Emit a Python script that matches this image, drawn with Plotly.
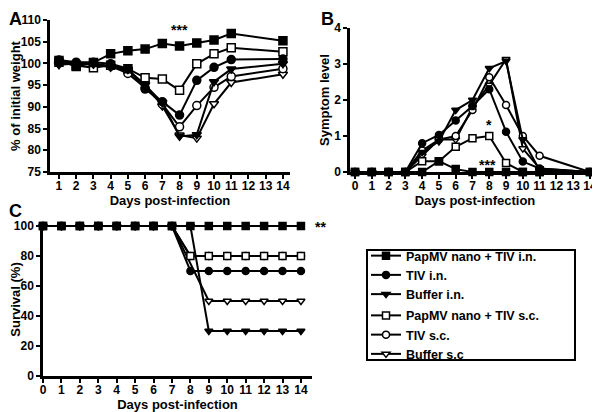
import plotly.graph_objects as go

# ---------------- data ----------------
names = ["PapMV nano + TIV i.n.", "TIV i.n.", "Buffer i.n.",
         "PapMV nano + TIV s.c.", "TIV s.c.", "Buffer s.c"]

# Panel A: % of initial weight
days_A = [1, 2, 3, 4, 5, 6, 7, 8, 9, 10, 11, 14]
papmv_in_A = [100.7, 99.3, 100.2, 102.2, 102.9, 103.3, 104.6, 104.0, 104.7, 105.4, 106.9, 105.2]
tiv_in_A = [100.8, 100.3, 100.3, 99.9, 98.8, 94.1, 91.2, 88.1, 96.1, 99.1, 100.9, 101.0]
buf_in_A = [99.7, 100.0, 99.8, 99.1, 98.6, 95.0, 91.0, 83.2, 83.6, 95.8, 98.7, 99.9]
papmv_sc_A = [100.3, 99.5, 99.0, 99.6, 98.8, 96.7, 96.4, 93.8, 99.9, 102.2, 103.6, 102.7]
tiv_sc_A = [100.4, 100.0, 99.9, 99.4, 97.7, 94.4, 90.6, 85.4, 90.3, 94.5, 97.0, 98.8]
buf_sc_A = [99.9, 99.9, 99.7, 99.3, 98.3, 95.2, 90.2, 83.5, 82.8, 90.7, 95.6, 97.5]

# Panel B: symptom level
days_B = [0, 1, 2, 3, 4, 5, 6, 7, 8, 9, 10, 11, 14]
papmv_in_B = [0, 0, 0, 0, 0, 0.3, 0.08, 0, 0, 0, 0, 0, 0]
tiv_in_B = [0, 0, 0, 0, 0.8, 1.03, 1.43, 1.83, 2.3, 1.12, 0.29, 0.1, 0]
buf_in_B = [0, 0, 0, 0, 0.55, 0.85, 1.72, 2.0, 2.88, 3.08, 0.9, 0.05, 0]
papmv_sc_B = [0, 0, 0, 0, 0.3, 0.3, 0.7, 0.94, 1.0, 0.25, 0, 0, 0]
tiv_sc_B = [0, 0, 0, 0, 0.6, 0.9, 1.0, 1.72, 2.63, 1.86, 1.0, 0.45, 0]
buf_sc_B = [0, 0, 0, 0, 0.45, 0.9, 0.9, 1.8, 2.42, 3.13, 0.65, 0.1, 0]

# Panel C: survival (%)
days_C = [0, 1, 2, 3, 4, 5, 6, 7, 8, 9, 10, 11, 12, 13, 14]
papmv_in_C = [100, 100, 100, 100, 100, 100, 100, 100, 100, 100, 100, 100, 100, 100, 100]
tiv_in_C = [100, 100, 100, 100, 100, 100, 100, 100, 70, 70, 70, 70, 70, 70, 70]
buf_in_C = [100, 100, 100, 100, 100, 100, 100, 100, 100, 30, 30, 30, 30, 30, 30]
papmv_sc_C = [100, 100, 100, 100, 100, 100, 100, 100, 80, 80, 80, 80, 80, 80, 80]
tiv_sc_C = [100, 100, 100, 100, 100, 100, 100, 100, 80, 80, 80, 80, 80, 80, 80]
buf_sc_C = [100, 100, 100, 100, 100, 100, 100, 100, None, 50, 50, 50, 50, 50, 50]

ticks_A = [1, 2, 3, 4, 5, 6, 7, 8, 9, 10, 11, 12, 13, 14]
ticks_BC = [0, 1, 2, 3, 4, 5, 6, 7, 8, 9, 10, 11, 12, 13, 14]

# ---------------- styles ----------------
symbols = ["square", "circle", "triangle-down", "square", "circle", "triangle-down"]
fills = ["black", "black", "black", "white", "white", "white"]
groups = ["in", "in", "in", "sc", "sc", "sc"]

# the page body has an 8px margin: the figure sits at (8, 8) in the window
OFF = 8
W, H = 600 - OFF, 412 - OFF
FONT = "Liberation Sans, Arial, Helvetica, sans-serif"


def px_x(p):
    return (p - OFF) / W


def px_y(p):
    return 1 - (p - OFF) / H


fig = go.Figure()

panels = [
    ("x", "y", days_A, [papmv_in_A, tiv_in_A, buf_in_A, papmv_sc_A, tiv_sc_A, buf_sc_A], 8, False),
    ("x2", "y2", days_B, [papmv_in_B, tiv_in_B, buf_in_B, papmv_sc_B, tiv_sc_B, buf_sc_B], 7, False),
    ("x3", "y3", days_C, [papmv_in_C, tiv_in_C, buf_in_C, papmv_sc_C, tiv_sc_C, buf_sc_C], 7, True),
]

for xa, ya, days, series, msize, show in panels:
    # draw in reverse so that the filled square series is on top
    for i in [5, 4, 3, 2, 1, 0]:
        fig.add_trace(go.Scatter(
            x=days, y=series[i], xaxis=xa, yaxis=ya,
            mode="lines+markers", name=names[i],
            legendgroup=groups[i], showlegend=show, legendrank=i + 1,
            connectgaps=True, cliponaxis=False,
            line=dict(color="black", width=2),
            marker=dict(symbol=symbols[i], size=msize, color=fills[i],
                        line=dict(color="black", width=1.5)),
        ))

axis_common = dict(
    showline=True, linecolor="black", linewidth=2.5,
    ticks="outside", tickwidth=2, ticklen=4, tickcolor="black",
    showgrid=False, zeroline=False,
    tickfont=dict(family=FONT, size=12, color="black", weight="bold"),
    title_font=dict(family=FONT, size=13, color="black", weight="bold"),
)

fig.update_layout(
    width=W, height=H,
    margin=dict(l=0, r=0, t=0, b=0, autoexpand=False),
    paper_bgcolor="white", plot_bgcolor="white",
    font=dict(family=FONT, color="black"),
    showlegend=True,
    legend=dict(
        x=px_x(366), y=px_y(241), xanchor="left", yanchor="top",
        borderwidth=0, bgcolor="rgba(0,0,0,0)",
        traceorder="grouped", tracegroupgap=2,
        font=dict(family=FONT, size=12.5, color="black", weight="bold"),
        itemwidth=30,
    ),
    xaxis=dict(domain=[px_x(50), px_x(290)], range=[0.48, 14.41], anchor="y",
               tickvals=ticks_A, ticklabelstandoff=-3,
               title=dict(text="Days post-infection", standoff=3), **axis_common),
    yaxis=dict(domain=[px_y(172), px_y(20)], range=[75, 110], anchor="x",
               tickvals=[75, 80, 85, 90, 95, 100, 105, 110],
               title=dict(text="% of initial weight", standoff=3), **axis_common),
    xaxis2=dict(domain=[px_x(350), px_x(600)], range=[-0.3, 14.6], anchor="y2",
                tickvals=ticks_BC, ticklabelstandoff=-3,
                title=dict(text="Days post-infection", standoff=3), **axis_common),
    yaxis2=dict(domain=[px_y(172), px_y(28)], range=[0, 4], anchor="x2",
                tickvals=[0, 1, 2, 3, 4],
                title=dict(text="Symptom level", standoff=2), **axis_common),
    xaxis3=dict(domain=[px_x(43), px_x(312)], range=[0, 14.6], anchor="y3",
                tickvals=ticks_BC, ticklabelstandoff=-3,
                title=dict(text="Days post-infection", standoff=2), **axis_common),
    yaxis3=dict(domain=[px_y(376), px_y(223)], range=[0, 102], anchor="x3",
                tickvals=[0, 20, 40, 60, 80, 100],
                title=dict(text="Survival (%)", standoff=3), **axis_common),
    shapes=[dict(type="rect", xref="paper", yref="paper",
                 x0=px_x(367), x1=px_x(575), y0=px_y(360), y1=px_y(250),
                 line=dict(color="black", width=2), fillcolor="rgba(0,0,0,0)")],
)

ann_font = dict(family=FONT, size=14, color="black", weight="bold")
fig.add_annotation(x=8, y=107.6, xref="x", yref="y", text="***", showarrow=False, font=ann_font)
fig.add_annotation(x=8, y=1.3, xref="x2", yref="y2", text="*", showarrow=False, font=ann_font)
fig.add_annotation(x=7.9, y=0.2, xref="x2", yref="y2", text="***", showarrow=False, font=ann_font)
fig.add_annotation(x=px_x(313), y=px_y(227), xref="paper", yref="paper", text="**",
                   showarrow=False, xanchor="left", font=ann_font)

lab_font = dict(family=FONT, size=18, color="black", weight="bold")
for t, xp, yp in [("A", 8, 8), ("B", 320, 8), ("C", 8, 200)]:
    fig.add_annotation(x=px_x(xp), y=px_y(yp), xref="paper", yref="paper", text=t,
                       showarrow=False, xanchor="left", yanchor="top", borderpad=0,
                       font=lab_font)

fig.write_html("out.html")
